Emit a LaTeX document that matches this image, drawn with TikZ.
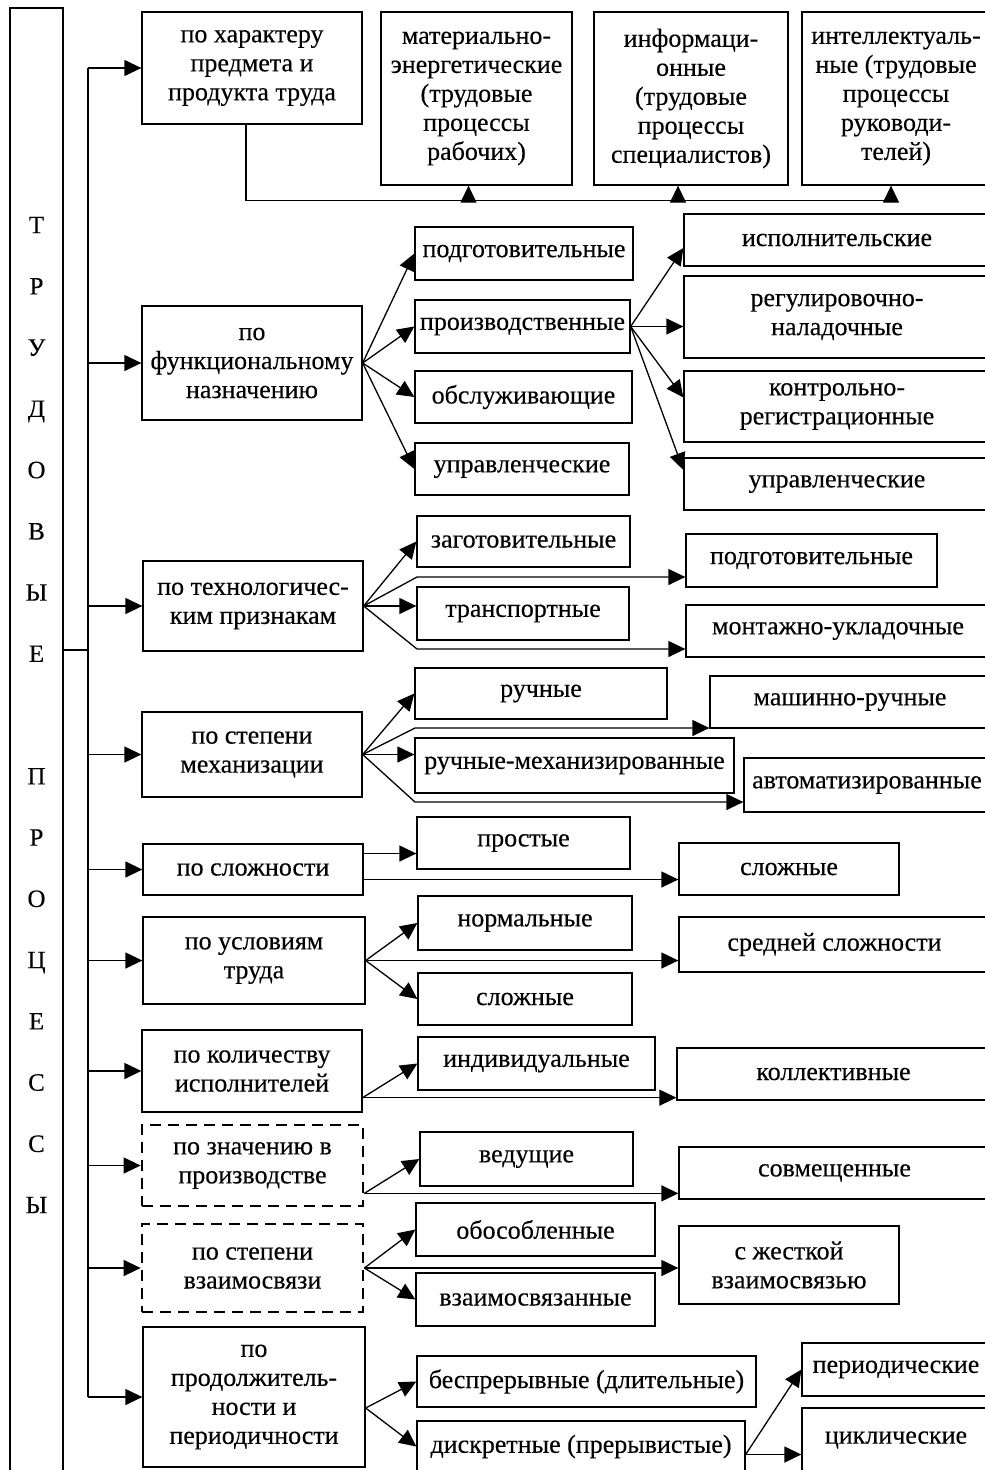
\documentclass[tikz,border=0pt]{standalone}
\usepackage{fontspec}
\setmainfont{Liberation Serif}[FakeBold=0.3]
\usetikzlibrary{arrows.meta}

\begin{document}
\begin{tikzpicture}
	[x=1pt,y=-1pt,
	 every node/.style={font=\fontsize{26}{29}\selectfont},
	 box/.style={draw,line width=1.3pt,align=center,inner sep=0pt},
	 dbox/.style={box,line width=2.7pt,dash pattern=on 11pt off 7pt},
	 sz/.style 2 args={minimum width=#1pt,minimum height=#2pt},
	 ln/.style={line width=1.3pt},
	 arr/.style={line width=1.3pt,-{Triangle[length=17pt,width=16pt]}}]
\clip (0,0) rectangle (985,1470);
% left frame
\node[box,sz={53}{1472}] (trud) at (36.5,744) {};
\node[font=\fontsize{25}{61.25}\selectfont,align=center] (trudtxt) at (36.5,715)
	{Т\\Р\\У\\Д\\О\\В\\Ы\\Е\\[61.25pt]П\\Р\\О\\Ц\\Е\\С\\С\\Ы};
% categories
\node[box,sz={220}{112}] (c1) at (252,68) {по характеру\\предмета и\\продукта труда};
\node[box,sz={220}{114}] (c2) at (252,363) {по\\функциональному\\назначению};
\node[box,sz={220}{90}] (c3) at (253,606) {по технологичес-\\ким признакам};
\node[box,sz={220}{85}] (c4) at (252,754.5) {по степени\\механизации};
\node[box,sz={220}{51}] (c5) at (253,869.5) {по сложности};
\node[box,sz={222}{87}] (c6) at (254,960.5) {по условиям\\труда};
\node[box,sz={220}{82}] (c7) at (252,1071) {по количеству\\исполнителей};
\node[dbox,sz={221}{81}] (c8) at (252.5,1165.5) {по значению в\\производстве};
\node[dbox,sz={221}{88}] (c9) at (252.5,1268) {по степени\\взаимосвязи};
\node[box,sz={222}{140}] (c10) at (254,1397) {по\\продолжитель-\\ности и\\периодичности};
% top row
\node[box,sz={191}{173}] (mat) at (476.5,98.5) {материально-\\энергетические\\(трудовые\\процессы\\рабочих)};
\node[box,sz={194}{173}] (inf) at (691,98.5) {информаци-\\онные\\(трудовые\\процессы\\специалистов)};
\node[box,sz={188}{173}] (int) at (896,98.5) {интеллектуаль-\\ные (трудовые\\процессы\\руководи-\\телей)};
% functional
\node[box,sz={218}{53}] (podg) at (524,253.5) {подготовительные};
\node[box,sz={215}{53}] (proizv) at (522.5,326.5) {производственные};
\node[box,sz={217}{52}] (obsl) at (523.5,397) {обслуживающие};
\node[box,sz={214}{52}] (upr) at (522,469) {управленческие};
\node[box,sz={306}{52}] (isp) at (837,240) {исполнительские};
\node[box,sz={306}{82}] (reg) at (837,317) {регулировочно-\\наладочные};
\node[box,sz={306}{71}] (kontr) at (837,406.5) {контрольно-\\регистрационные};
\node[box,sz={306}{52}] (upr2) at (837,484) {управленческие};
% technological
\node[box,sz={213}{51}] (zag) at (523.5,541.5) {заготовительные};
\node[box,sz={212}{53}] (trans) at (523,613.5) {транспортные};
\node[box,sz={251}{53}] (podg2) at (811.5,560.5) {подготовительные};
\node[box,sz={304}{52}] (mont) at (838,631) {монтажно-укладочные};
% mechanization
\node[box,sz={252}{51}] (ruch) at (541,693.5) {ручные};
\node[box,sz={319}{55}] (ruchmeh) at (574.5,765.5) {ручные-механизированные};
\node[box,sz={280}{52}] (mash) at (850,702) {машинно-ручные};
\node[box,sz={246}{54}] (avt) at (867,785) {автоматизированные};
% complexity, conditions
\node[box,sz={213}{52}] (prost) at (523.5,843) {простые};
\node[box,sz={220}{52}] (slozh) at (789,869) {сложные};
\node[box,sz={214}{54}] (norm) at (525,923) {нормальные};
\node[box,sz={311}{55}] (sred) at (834.5,944.5) {средней сложности};
\node[box,sz={214}{52}] (slozh2) at (525,999) {сложные};
% executors, importance
\node[box,sz={237}{53}] (indiv) at (536.5,1063.5) {индивидуальные};
\node[box,sz={313}{52}] (koll) at (833.5,1074) {коллективные};
\node[box,sz={213}{54}] (ved) at (526.5,1159) {ведущие};
\node[box,sz={311}{52}] (sovm) at (834.5,1173) {совмещенные};
% interconnection
\node[box,sz={239}{53}] (obos) at (535.5,1229.5) {обособленные};
\node[box,sz={220}{78}] (zhest) at (789,1265) {с жесткой\\взаимосвязью};
\node[box,sz={239}{53}] (vzaim) at (535.5,1299.5) {взаимосвязанные};
% duration
\node[box,sz={339}{51}] (bespr) at (586.5,1381.5) {беспрерывные (длительные)};
\node[box,sz={328}{51}] (diskr) at (581,1446.5) {дискретные (прерывистые)};
\node[box,sz={188}{53}] (period) at (896,1369.5) {периодические};
\node[box,sz={188}{64}] (cikl) at (896,1440) {циклические};

% bus
\coordinate (busmid) at (88,650);
\draw[ln] (trud.east |- busmid) -- (busmid);
\draw[ln] (busmid |- c1.west) -- (busmid |- c10.west);
\foreach \c in {c1,c2,c3,c4,c5,c6,c7,c8,c9,c10}
	\draw[arr] (busmid |- \c.west) -- (\c.west);
% top row
\draw[ln] ([xshift=-6pt]c1.south) |- ([xshift=-5pt,yshift=-15pt]int.south);
\foreach \n/\dx in {mat/-8,inf/-13,int/-5}
	\draw[arr] ([xshift=\dx pt,yshift=-15pt]\n.south) -- ([xshift=\dx pt]\n.south);
% functional
\foreach \n in {podg,proizv,obsl,upr}
	\draw[arr] (c2.east) -- (\n.west);
\draw[arr] (proizv.east) -- ([yshift=-8pt]isp.west);
\draw[arr] (proizv.east) -- (proizv.east -| reg.west);
\draw[arr] (proizv.east) -- ([yshift=9pt]kontr.west);
\draw[arr] (proizv.east) -- ([yshift=14pt]upr2.west);
% technological
\coordinate (t1) at (417,577);
\coordinate (t2) at (417,649);
\draw[arr] (c3.east) -- (zag.west);
\draw[arr] (c3.east) -- (t1) -- (t1 -| podg2.west);
\draw[arr] (c3.east) -- (c3.east -| trans.west);
\draw[arr] (c3.east) -- (t2) -- (t2 -| mont.west);
% mechanization
\coordinate (m1) at (415,728);
\coordinate (m2) at (415,802);
\draw[arr] (c4.east) -- (ruch.west);
\draw[arr] (c4.east) -- (m1) -- (m1 -| mash.west);
\draw[arr] (c4.east) -- (c4.east -| ruchmeh.west);
\draw[arr] (c4.east) -- (m2) -- (m2 -| avt.west);
% complexity
\coordinate (s1) at ([yshift=16pt]c5.east);
\coordinate (s2) at ([yshift=-10pt]c5.east);
\draw[arr] (s1) -- (s1 -| prost.west);
\draw[arr] (s2) -- (s2 -| slozh.west);
% conditions
\draw[arr] (c6.east) -- (norm.west);
\draw[arr] (c6.east) -- (c6.east -| sred.west);
\draw[arr] (c6.east) -- (slozh2.west);
% executors
\coordinate (k1) at ([yshift=15pt]c7.south east);
\draw[arr] (k1) -- (indiv.west);
\draw[arr] (k1) -- (k1 -| koll.west);
% importance
\coordinate (v1) at ([yshift=14pt]c8.south east);
\draw[arr] (v1) -- (ved.west);
\draw[arr] (v1) -- (v1 -| sovm.west);
% interconnection
\draw[arr] (c9.east) -- (obos.west);
\draw[arr] (c9.east) -- (c9.east -| zhest.west);
\draw[arr] (c9.east) -- (vzaim.west);
% duration
\coordinate (d1) at ([yshift=-11pt]c10.east);
\coordinate (d2) at ([yshift=-8pt]diskr.east);
\draw[arr] (d1) -- (bespr.west);
\draw[arr] (d1) -- (diskr.west);
\draw[arr] (d2) -- (period.west);
\draw[arr] (d2) -- (d2 -| cikl.west);
\end{tikzpicture}
\end{document}
